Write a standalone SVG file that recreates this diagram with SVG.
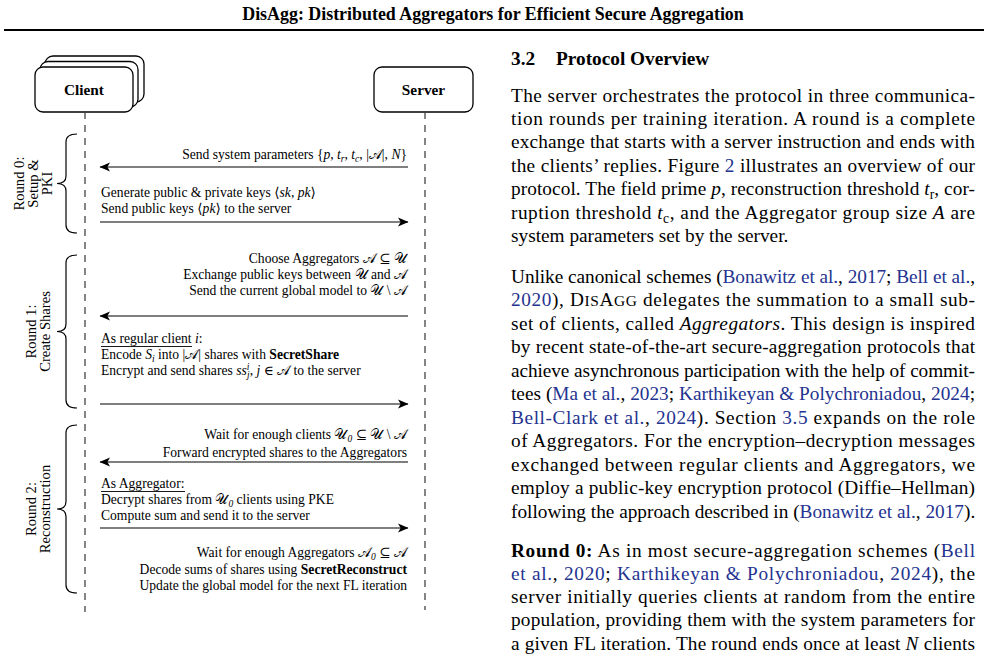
<svg xmlns="http://www.w3.org/2000/svg" width="988" height="659" viewBox="0 0 988 659">
<style>
text{font-family:"Liberation Serif","DejaVu Serif",serif;fill:#000}
.d{font-size:13.6px}
.r{font-size:14.6px}
.t{font-size:19.3px}
.i{font-style:italic}
.b{font-weight:bold}
.s{font-size:9.5px;font-style:italic}
.su{font-size:13.6px}
.lk{fill:#24338f}
.c{font-family:"DejaVu Serif","DejaVu Sans","Liberation Serif",serif}
.box{fill:#fff;stroke:#000;stroke-width:1.3}
.life{stroke:#444;stroke-width:1.3;stroke-dasharray:7 6;fill:none}
.arr{stroke:#000;stroke-width:1.2;fill:none;marker-end:url(#ah)}
.brace{stroke:#000;stroke-width:1.2;fill:none}
.ul{stroke:#000;stroke-width:0.9}
</style>
<defs>
<marker id="ah" markerWidth="12" markerHeight="10" refX="10" refY="5" orient="auto" markerUnits="userSpaceOnUse">
<path d="M10.5,5 L0,0.6 L2.6,5 L0,9.4 Z" fill="#000"/>
</marker>
</defs>
<rect width="988" height="659" fill="#fff"/>

<!-- page header -->
<text x="493" y="20" text-anchor="middle" class="b" font-size="17.9">DisAgg: Distributed Aggregators for Efficient Secure Aggregation</text>
<rect x="4" y="29" width="980" height="2" fill="#000"/>

<!-- nodes -->
<g id="client">
<rect class="box" x="45" y="56" width="99" height="46" rx="8"/>
<rect class="box" x="40" y="61.5" width="98" height="45.5" rx="8"/>
<rect class="box" x="35" y="67" width="98" height="45" rx="8"/>
<text x="84" y="94.5" text-anchor="middle" class="b" font-size="15.3">Client</text>
</g>
<g id="server">
<rect class="box" x="374" y="67" width="99" height="45" rx="8"/>
<text x="423.5" y="94.5" text-anchor="middle" class="b" font-size="15.3">Server</text>
</g>

<!-- lifelines -->
<g id="lifelines">
<line class="life" x1="85" y1="112" x2="85" y2="612"/>
<line class="life" x1="425" y1="112" x2="425" y2="610"/>
</g>

<!-- round braces and labels -->
<g id="round0">
<path class="brace" d="M77,134 Q66,134 66,142 L66,176 Q66,183.5 57,183.5 Q66,183.5 66,191 L66,225 Q66,233 77,233"/>
<text class="r" text-anchor="middle" transform="translate(23.5,183.5) rotate(-90)">Round 0:</text>
<text class="r" text-anchor="middle" transform="translate(37.5,183.5) rotate(-90)">Setup &amp;</text>
<text class="r" text-anchor="middle" transform="translate(51.5,183.5) rotate(-90)">PKI</text>
</g>
<g id="round1">
<path class="brace" d="M77,255 Q66,255 66,263 L66,324 Q66,331.5 57,331.5 Q66,331.5 66,339 L66,400 Q66,408 77,408"/>
<text class="r" text-anchor="middle" transform="translate(35.5,331.5) rotate(-90)">Round 1:</text>
<text class="r" text-anchor="middle" transform="translate(49.5,331.5) rotate(-90)">Create Shares</text>
</g>
<g id="round2">
<path class="brace" d="M77,425 Q66,425 66,433 L66,501.5 Q66,509 57,509 Q66,509 66,516.5 L66,585 Q66,593 77,593"/>
<text class="r" text-anchor="middle" transform="translate(35.5,509) rotate(-90)">Round 2:</text>
<text class="r" text-anchor="middle" transform="translate(49.5,509) rotate(-90)">Reconstruction</text>
</g>

<!-- connectors -->
<g id="connectors">
<line class="arr" x1="408" y1="167" x2="100" y2="167"/>
<line class="arr" x1="100" y1="222" x2="408" y2="222"/>
<line class="arr" x1="408" y1="316" x2="100" y2="316"/>
<line class="arr" x1="100" y1="404" x2="408" y2="404"/>
<line class="arr" x1="408" y1="462" x2="100" y2="462"/>
<line class="arr" x1="100" y1="528" x2="408" y2="528"/>
</g>

<!-- message labels -->
<g id="labels">
<text class="d" x="407" y="159" text-anchor="end">Send system parameters {<tspan class="i">p</tspan>, <tspan class="i">t</tspan><tspan class="s" dy="2.5">r</tspan><tspan dy="-2.5">, </tspan><tspan class="i">t</tspan><tspan class="s" dy="2.5">c</tspan><tspan dy="-2.5">, |</tspan><tspan class="c">𝒜</tspan>|, <tspan class="i">N</tspan>}</text>
<text class="d" x="101" y="197">Generate public &amp; private keys ⟨<tspan class="i">sk</tspan>, <tspan class="i">pk</tspan>⟩</text>
<text class="d" x="101" y="213">Send public keys ⟨<tspan class="i">pk</tspan>⟩ to the server</text>

<text class="d" x="407" y="263" text-anchor="end">Choose Aggregators <tspan class="c">𝒜</tspan> ⊆ <tspan class="c">𝒰</tspan></text>
<text class="d" x="407" y="279" text-anchor="end">Exchange public keys between <tspan class="c">𝒰</tspan> and <tspan class="c">𝒜</tspan></text>
<text class="d" x="407" y="295" text-anchor="end">Send the current global model to <tspan class="c">𝒰</tspan> \ <tspan class="c">𝒜</tspan></text>

<text class="d" x="101" y="343">As regular client <tspan class="i">i</tspan>:</text>
<line class="ul" x1="101" y1="346.5" x2="192" y2="346.5"/>
<text class="d" x="101" y="359">Encode <tspan class="i">S</tspan><tspan class="s" dy="2.5">i</tspan><tspan dy="-2.5"> into |</tspan><tspan class="c">𝒜</tspan>| shares with <tspan class="b">SecretShare</tspan></text>
<text class="d" x="101" y="375">Encrypt and send shares <tspan class="i">ss</tspan><tspan class="s" dy="-5">i</tspan><tspan class="s" dx="-2.4" dy="8">j</tspan><tspan dy="-3">, </tspan><tspan class="i">j</tspan> ∈ <tspan class="c">𝒜</tspan> to the server</text>

<text class="d" x="407" y="439" text-anchor="end">Wait for enough clients <tspan class="c">𝒰</tspan><tspan class="s" dy="2.5">0</tspan><tspan dy="-2.5"> ⊆ </tspan><tspan class="c">𝒰</tspan> \ <tspan class="c">𝒜</tspan></text>
<text class="d" x="407" y="457" text-anchor="end">Forward encrypted shares to the Aggregators</text>

<text class="d" x="101" y="488">As Aggregator:</text>
<line class="ul" x1="101" y1="491.5" x2="185" y2="491.5"/>
<text class="d" x="101" y="504">Decrypt shares from <tspan class="c">𝒰</tspan><tspan class="s" dy="2.5">0</tspan><tspan dy="-2.5"> clients using PKE</tspan></text>
<text class="d" x="101" y="520">Compute sum and send it to the server</text>

<text class="d" x="407" y="557" text-anchor="end">Wait for enough Aggregators <tspan class="c">𝒜</tspan><tspan class="s" dy="2.5">0</tspan><tspan dy="-2.5"> ⊆ </tspan><tspan class="c">𝒜</tspan></text>
<text class="d" x="407" y="574" text-anchor="end">Decode sums of shares using <tspan class="b">SecretReconstruct</tspan></text>
<text class="d" x="407" y="590" text-anchor="end">Update the global model for the next FL iteration</text>
</g>

<!-- right column text -->
<g id="body">
<text class="t b" x="511" y="64.5">3.2</text>
<text class="t b" x="556" y="64.5">Protocol Overview</text>

<text class="t" x="511" y="101.5" textLength="464" lengthAdjust="spacing">The server orchestrates the protocol in three communica-</text>
<text class="t" x="511" y="125" textLength="464" lengthAdjust="spacing">tion rounds per training iteration.  A round is a complete</text>
<text class="t" x="511" y="148.4" textLength="464" lengthAdjust="spacing">exchange that starts with a server instruction and ends with</text>
<text class="t" x="511" y="171.9" textLength="464" lengthAdjust="spacing">the clients’ replies. Figure <tspan class="lk">2</tspan> illustrates an overview of our</text>
<text class="t" x="511" y="195.3" textLength="464" lengthAdjust="spacing">protocol. The field prime <tspan class="i">p</tspan>, reconstruction threshold <tspan class="i">t</tspan><tspan class="su" dy="4">r</tspan><tspan dy="-4">, cor-</tspan></text>
<text class="t" x="511" y="218.8" textLength="464" lengthAdjust="spacing">ruption threshold <tspan class="i">t</tspan><tspan class="su" dy="4">c</tspan><tspan dy="-4">, and the Aggregator group size </tspan><tspan class="i">A</tspan> are</text>
<text class="t" x="511" y="242.2">system parameters set by the server.</text>

<text class="t" x="511" y="283" textLength="464" lengthAdjust="spacing">Unlike canonical schemes (<tspan class="lk">Bonawitz et al.</tspan>, <tspan class="lk">2017</tspan>; <tspan class="lk">Bell et al.</tspan>,</text>
<text class="t" x="511" y="306.4" textLength="464" lengthAdjust="spacing"><tspan class="lk">2020</tspan>), D<tspan font-size="15.4">IS</tspan>A<tspan font-size="15.4">GG</tspan> delegates the summation to a small sub-</text>
<text class="t" x="511" y="329.9" textLength="464" lengthAdjust="spacing">set of clients, called <tspan class="i">Aggregators</tspan>.  This design is inspired</text>
<text class="t" x="511" y="353.3" textLength="464" lengthAdjust="spacing">by recent state-of-the-art secure-aggregation protocols that</text>
<text class="t" x="511" y="376.8" textLength="464" lengthAdjust="spacing">achieve asynchronous participation with the help of commit-</text>
<text class="t" x="511" y="400.2" textLength="464" lengthAdjust="spacing">tees (<tspan class="lk">Ma et al.</tspan>, <tspan class="lk">2023</tspan>; <tspan class="lk">Karthikeyan &amp; Polychroniadou</tspan>, <tspan class="lk">2024</tspan>;</text>
<text class="t" x="511" y="423.7" textLength="464" lengthAdjust="spacing"><tspan class="lk">Bell-Clark et al.</tspan>, <tspan class="lk">2024</tspan>).  Section <tspan class="lk">3.5</tspan> expands on the role</text>
<text class="t" x="511" y="447.1" textLength="464" lengthAdjust="spacing">of Aggregators.  For the encryption–decryption messages</text>
<text class="t" x="511" y="470.6" textLength="464" lengthAdjust="spacing">exchanged between regular clients and Aggregators, we</text>
<text class="t" x="511" y="494" textLength="464" lengthAdjust="spacing">employ a public-key encryption protocol (Diffie–Hellman)</text>
<text class="t" x="511" y="517.5">following the approach described in (<tspan class="lk">Bonawitz et al.</tspan>, <tspan class="lk">2017</tspan>).</text>

<text class="t" x="511" y="556.5" textLength="464" lengthAdjust="spacing"><tspan class="b">Round 0:</tspan>  As in most secure-aggregation schemes (<tspan class="lk">Bell</tspan></text>
<text class="t" x="511" y="579.8" textLength="464" lengthAdjust="spacing"><tspan class="lk">et al.</tspan>, <tspan class="lk">2020</tspan>; <tspan class="lk">Karthikeyan &amp; Polychroniadou</tspan>, <tspan class="lk">2024</tspan>), the</text>
<text class="t" x="511" y="603.1" textLength="464" lengthAdjust="spacing">server initially queries clients at random from the entire</text>
<text class="t" x="511" y="626.4" textLength="464" lengthAdjust="spacing">population, providing them with the system parameters for</text>
<text class="t" x="511" y="649.7" textLength="464" lengthAdjust="spacing">a given FL iteration. The round ends once at least <tspan class="i">N</tspan> clients</text>
</g>
</svg>
